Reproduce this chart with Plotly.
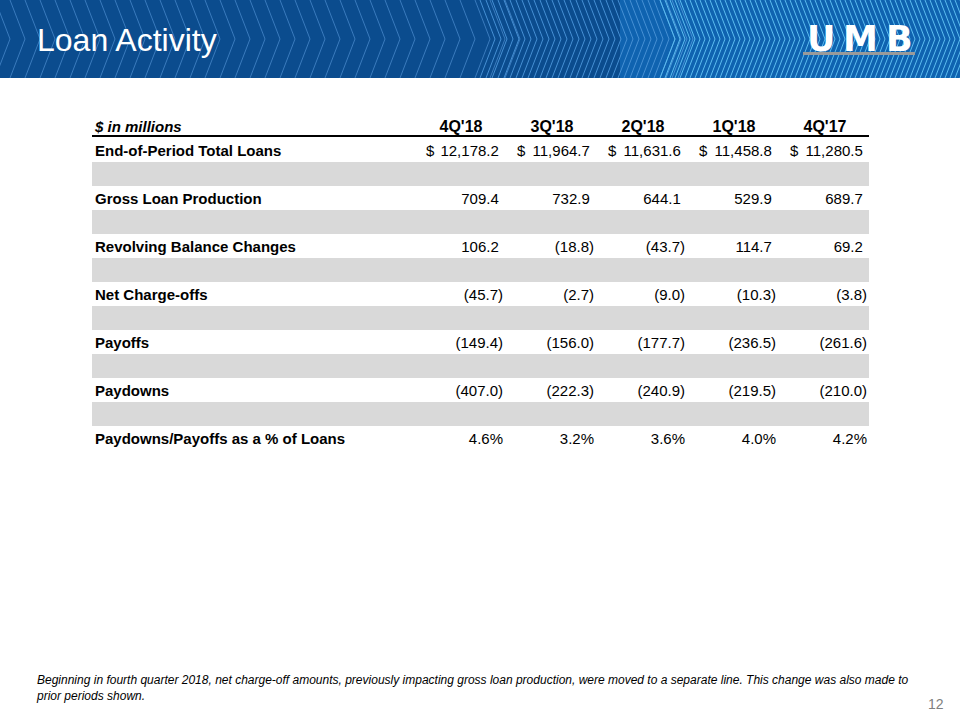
import plotly.graph_objects as go

# ---------------- data ----------------
periods = ["4Q'18", "3Q'18", "2Q'18", "1Q'18", "4Q'17"]
row_labels = [
    "End-of-Period Total Loans",
    "Gross Loan Production",
    "Revolving Balance Changes",
    "Net Charge-offs",
    "Payoffs",
    "Paydowns",
    "Paydowns/Payoffs as a % of Loans",
]
total_loans = [12178.2, 11964.7, 11631.6, 11458.8, 11280.5]
gross_production = [709.4, 732.9, 644.1, 529.9, 689.7]
revolving_changes = [106.2, -18.8, -43.7, 114.7, 69.2]
net_chargeoffs = [-45.7, -2.7, -9.0, -10.3, -3.8]
payoffs = [-149.4, -156.0, -177.7, -236.5, -261.6]
paydowns = [-407.0, -222.3, -240.9, -219.5, -210.0]
paydown_payoff_pct = [4.6, 3.2, 3.6, 4.0, 4.2]

units_label = "$ in millions"
title_text = "Loan Activity"
footnote = ("Beginning in fourth quarter 2018, net charge-off amounts, previously impacting gross loan production, "
            "were moved to a separate line. This change was also made to<br>prior periods shown.")
page_number = "12"

# ---------------- layout constants ----------------
W, H = 960, 720
FONT = "Liberation Sans, Arial, sans-serif"
TABLE_LEFT, TABLE_RIGHT = 92, 869
LABEL_X = 95
COL_END = [503, 594, 685, 776, 867]
HEADER_Y = 126
ROW_PITCH = 24
TEXT_DY = 2
BAND = "#d9d9d9"


def row_y(k):
    return HEADER_Y + ROW_PITCH * k


def text_y(k):
    return row_y(k) + TEXT_DY


def fmt_money(v):
    s = f"{abs(v):,.1f}"
    return f"({s})" if v < 0 else s + "\u00a0"


money_rows = [total_loans, gross_production, revolving_changes,
              net_chargeoffs, payoffs, paydowns]

data_rows = [1, 3, 5, 7, 9, 11, 13]
band_rows = [2, 4, 6, 8, 10, 12]

fig = go.Figure()

# gray spacer bands
fig.add_trace(go.Bar(
    orientation="h",
    y=[row_y(k) for k in band_rows],
    x=[TABLE_RIGHT - TABLE_LEFT] * len(band_rows),
    base=TABLE_LEFT,
    width=ROW_PITCH,
    marker=dict(color=BAND, line=dict(width=0)),
    hoverinfo="skip",
))

# header texts
fig.add_trace(go.Scatter(
    x=[LABEL_X], y=[text_y(0)], mode="text",
    text=[f"<b><i>{units_label}</i></b>"], textposition="middle right",
    textfont=dict(family=FONT, size=15, color="#000000"), hoverinfo="skip",
))
fig.add_trace(go.Scatter(
    x=[c - 42 for c in COL_END], y=[text_y(0)] * len(periods), mode="text",
    text=[f"<b>{p}</b>" for p in periods], textposition="middle center",
    textfont=dict(family=FONT, size=16, color="#000000"), hoverinfo="skip",
))

# row labels
fig.add_trace(go.Scatter(
    x=[LABEL_X] * len(row_labels), y=[text_y(k) for k in data_rows], mode="text",
    text=[f"<b>{lab}</b>" for lab in row_labels], textposition="middle right",
    textfont=dict(family=FONT, size=15, color="#000000"), hoverinfo="skip",
))

# values per period column
for ci in range(len(periods)):
    texts = [fmt_money(r[ci]) for r in money_rows] + [f"{paydown_payoff_pct[ci]:.1f}%"]
    fig.add_trace(go.Scatter(
        x=[COL_END[ci]] * len(texts), y=[text_y(k) for k in data_rows], mode="text",
        text=texts, textposition="middle left",
        textfont=dict(family=FONT, size=15, color="#000000"), hoverinfo="skip",
    ))

# dollar signs for first row (accounting style)
fig.add_trace(go.Scatter(
    x=[c - 77 for c in COL_END], y=[text_y(1)] * len(periods), mode="text",
    text=["$"] * len(periods), textposition="middle right",
    textfont=dict(family=FONT, size=15, color="#000000"), hoverinfo="skip",
))

shapes = []
# header rule
shapes.append(dict(type="line", xref="x", yref="y", x0=TABLE_LEFT, x1=TABLE_RIGHT,
                   y0=136, y1=136, line=dict(color="#000000", width=2)))

# banner
BANNER_H = 78
shapes.append(dict(type="rect", xref="x", yref="y", x0=0, x1=W, y0=0, y1=BANNER_H,
                   fillcolor="#0b4c8e", line=dict(width=0), layer="below"))
shapes.append(dict(type="rect", xref="x", yref="y", x0=620, x1=W, y0=0, y1=BANNER_H,
                   fillcolor="#0f63b0", line=dict(width=0), layer="below"))


def chevrons(x_start, x_end, step, dx=15):
    parts = []
    x = x_start
    while x < x_end:
        parts.append(f"M{x:.1f},0 L{x + dx:.1f},{BANNER_H / 2:.1f} L{x:.1f},{BANNER_H}")
        x += step
    return " ".join(parts)


shapes.append(dict(type="path", xref="x", yref="y", path=chevrons(-20, 520, 15),
                   line=dict(color="#3a7bbd", width=1), layer="below"))
shapes.append(dict(type="path", xref="x", yref="y", path=chevrons(480, 680, 6),
                   line=dict(color="#4690d4", width=1), layer="below"))
shapes.append(dict(type="path", xref="x", yref="y", path=chevrons(660, 980, 5),
                   line=dict(color="#5cbdf0", width=1), layer="below"))
# logo underline
shapes.append(dict(type="rect", xref="x", yref="y", x0=803, x1=915, y0=52, y1=55,
                   fillcolor="#9a9a9a", line=dict(width=0)))

annotations = [
    dict(text=title_text, x=35, y=40, xref="x", yref="y", xanchor="left", yanchor="middle",
         showarrow=False, font=dict(family=FONT, size=32, color="#ffffff")),
    dict(text=footnote, x=34, y=688, xref="x", yref="y", xanchor="left", yanchor="middle",
         align="left", showarrow=False,
         font=dict(family=FONT, size=12, color="#000000", style="italic")),
    dict(text=page_number, x=946, y=704, xref="x", yref="y", xanchor="right", yanchor="middle",
         showarrow=False, font=dict(family=FONT, size=14, color="#808080")),
]
for letter, cx in zip("UMB", [821, 860, 899]):
    annotations.append(dict(text=f"<b>{letter}</b>", x=cx, y=39, xref="x", yref="y",
                            xanchor="center", yanchor="middle", showarrow=False,
                            font=dict(family="DejaVu Sans, sans-serif", size=35, color="#ffffff")))

fig.update_layout(
    width=W, height=H,
    margin=dict(l=0, r=0, t=0, b=0),
    paper_bgcolor="#ffffff", plot_bgcolor="#ffffff",
    showlegend=False, hovermode=False,
    xaxis=dict(range=[0, W], visible=False, fixedrange=True),
    yaxis=dict(range=[H, 0], visible=False, fixedrange=True),
    shapes=shapes, annotations=annotations,
)

fig.write_html("out.html", config={"displayModeBar": False},
               post_script="document.body.style.margin='0';")
